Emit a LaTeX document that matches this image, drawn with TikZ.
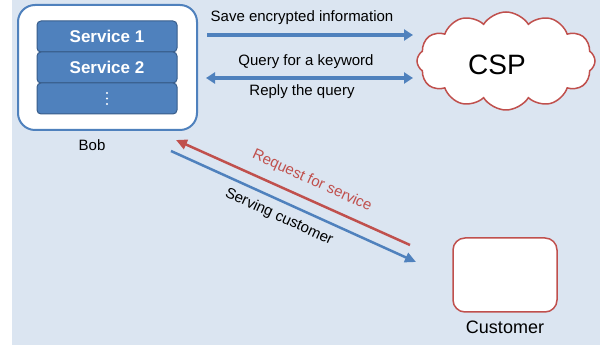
\documentclass[tikz,border=0pt]{standalone}
\usepackage{fontspec}
\setmainfont{Liberation Sans}
\usetikzlibrary{shapes.symbols,arrows.meta}
\definecolor{bgblue}{HTML}{DBE5F1}
\definecolor{mblue}{HTML}{4F81BD}
\definecolor{dblue}{HTML}{385D8A}
\definecolor{mred}{HTML}{C0504D}
\tikzset{
  svc/.style={draw=dblue, line width=1pt, fill=mblue, rounded corners=4pt,
    minimum width=140pt, minimum height=31pt, text=white, font=\bfseries\fontsize{17}{20}\selectfont, inner sep=0pt},
  lbl/.style={font=\fontsize{15}{18}\selectfont, inner sep=0pt},
  fatarrow/.style={draw=mblue, line width=3.5pt, -{Triangle[length=9pt,width=11pt]}},
  fatboth/.style={draw=mblue, line width=3.5pt, {Triangle[length=9pt,width=11pt]}-{Triangle[length=9pt,width=11pt]}},
  thinarrow/.style={line width=2.5pt, -{Triangle[length=11pt,width=11pt]}},
}
\begin{document}
\begin{tikzpicture}[x=1pt,y=-1pt]
\useasboundingbox (0,0) rectangle (611,352);
\fill[bgblue] (12,0) rectangle (600,345);
% Bob box
\node[draw=mblue, line width=2pt, fill=white, rounded corners=17pt, minimum width=179pt, minimum height=125pt, inner sep=0pt] (bob) at (107.5,67.5) {};
\node[svc] (s1) at (107,36.5) {Service 1};
\node[svc] (s2) at (107,67.5) {Service 2};
\node[svc] (s3) at (107,98.5) {};
\fill[white] (s3.center) ++(0,-5.5) circle (1.2pt) (s3.center) circle (1.2pt) (s3.center) ++(0,5.5) circle (1.2pt);
\node[lbl] (boblbl) at (92,145) {Bob};
% CSP cloud
\node[cloud, cloud puffs=12, cloud puff arc=115, aspect=1.8, draw=mred, line width=1.5pt, fill=white,
  minimum width=178pt, minimum height=98pt, inner sep=0pt] (csp) at (506,61) {};
\node[font=\fontsize{28}{32}\selectfont, inner sep=0pt] (csplbl) at (497,65) {CSP};
% Customer
\node[draw=mred, line width=1.5pt, fill=white, rounded corners=12pt, minimum width=104pt, minimum height=74pt, inner sep=0pt] (cust) at (505,275) {};
\node[font=\fontsize{18}{21}\selectfont, inner sep=0pt] (custlbl) at (505,327) {Customer};
% top arrows
\coordinate (a1s) at (207,35);
\coordinate (a1e) at (413,35);
\draw[fatarrow] (a1s) -- (a1e);
\node[lbl] (t1) at (302,18) {Save encrypted information};
\coordinate (a2s) at (206,78);
\coordinate (a2e) at (413,78);
\draw[fatboth] (a2s) -- (a2e);
\node[lbl] (t2) at (306,62) {Query for a keyword};
\node[lbl] (t3) at (302,92) {Reply the query};
% diagonal arrows
\coordinate (r1) at (410,245);
\coordinate (r2) at (176,140);
\draw[thinarrow, draw=mred, -{Triangle[length=11pt,width=10pt]}] (r1) -- (r2);
\coordinate (b1) at (171,151);
\coordinate (b2) at (416,262);
\draw[thinarrow, draw=mblue, -{Triangle[length=11pt,width=10pt]}] (b1) -- (b2);
\node[lbl, text=mred, rotate=-24.5] (t4) at (312,181) {Request for service};
\node[lbl, rotate=-24.5] (t5) at (279,217) {Serving customer};
\end{tikzpicture}
\end{document}
